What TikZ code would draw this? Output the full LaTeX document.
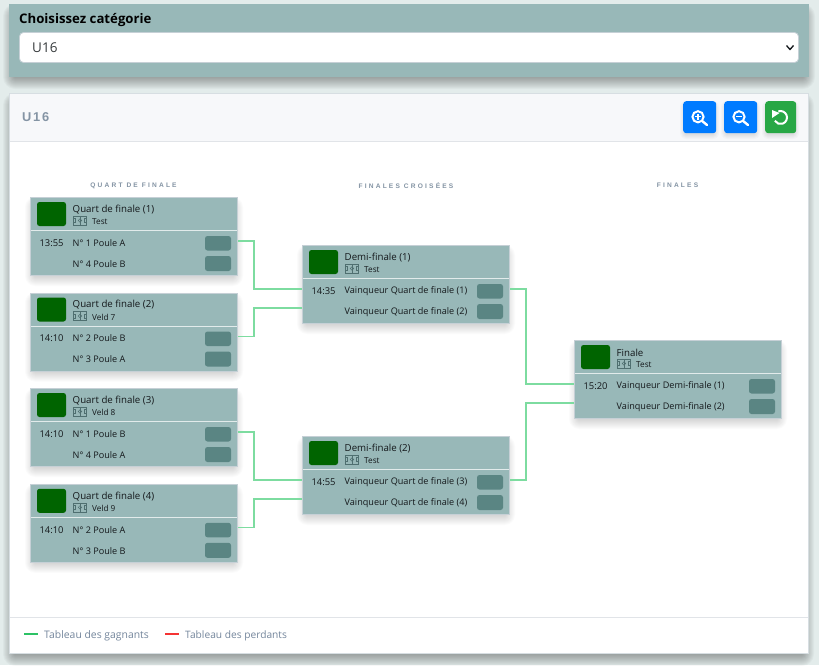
\documentclass[tikz,border=0pt]{standalone}
\usepackage{fontspec}
\setmainfont{Open Sans}
\newfontfamily\spacedfont[LetterSpace=33]{Liberation Sans}
\newfontfamily\headfont[LetterSpace=14]{Liberation Sans}
\usetikzlibrary{calc}
\definecolor{pagebg}{HTML}{E3ECEB}
\definecolor{panel}{HTML}{98B8B8}
\definecolor{scorebox}{HTML}{5A8583}
\definecolor{fieldgreen}{HTML}{006400}
\definecolor{boxedge}{HTML}{C6D0D6}
\definecolor{sepline}{HTML}{E2EBEB}
\definecolor{wire}{HTML}{7DDCA0}
\definecolor{inktext}{HTML}{14181B}
\definecolor{headbg}{HTML}{F7F8FA}
\definecolor{hairline}{HTML}{E1E4E8}
\definecolor{mutedtext}{HTML}{8494A4}
\definecolor{legendtext}{HTML}{74869C}
\definecolor{btnblue}{HTML}{007BFF}
\definecolor{btngreen}{HTML}{28A745}
\definecolor{legendgreen}{HTML}{2CC265}
\definecolor{legendred}{HTML}{F53333}
\definecolor{iconedge}{HTML}{4F6F70}
\tikzset{
  x=1pt,y=-1pt,
  matchbox/.style={draw=boxedge,line width=1pt,fill=panel,minimum width=207pt,minimum height=78pt,inner sep=0pt,anchor=north west},
  titletext/.style={font=\fontsize{9.7}{11}\selectfont,text=inktext,anchor=west,inner sep=0pt},
  matchtext/.style={font=\fontsize{9.1}{11}\selectfont,text=inktext,anchor=west,inner sep=0pt},
  timetext/.style={font=\fontsize{9.4}{11}\selectfont,text=inktext,anchor=center,inner sep=0pt},
  smalltext/.style={font=\fontsize{8.2}{10}\selectfont,text=inktext,anchor=west,inner sep=0pt},
  wireline/.style={draw=wire,line width=1.3pt,line join=miter},
  coltitle/.style={font=\fontsize{6.6}{8}\bfseries\spacedfont,text=mutedtext,inner sep=0pt},
  legendlabel/.style={font=\fontsize{10.4}{12}\selectfont,text=legendtext,anchor=west,inner sep=0pt},
  toolbtn/.style={rounded corners=3pt,inner sep=0pt,anchor=north west,minimum height=32pt},
  iconline/.style={draw=white,line width=2pt},
}
% soft shadow: x0 y0 x1 y1 spread opacity
\newcommand{\softshadow}[6]{%
  \foreach \s in {1,...,#5}{%
    \fill[black,opacity=#6,rounded corners=\s pt] (#1-\s+#5/2,#2-\s+#5/2+#5/2) rectangle (#3+\s-#5/2,#4+\s-#5/2+#5/2);
  }}
% one match card
\newcommand{\matchcard}[8]{% name x y title venue time team1 team2
  \softshadow{#2}{#3}{#2+208}{#3+79}{10}{0.016}
  \node[matchbox] (#1) at (#2,#3) {};
  \fill[fieldgreen,rounded corners=2.5pt] (#2+7,#3+5) rectangle (#2+36,#3+29);
  \draw[sepline,line width=1pt] (#2+1,#3+33.5) -- (#2+207,#3+33.5);
  \node[titletext] (#1title) at (#2+42.5,#3+12.5) {#4};
  \begin{scope}[shift={(#2+43.5,#3+19)},draw=iconedge,line width=.5pt]
    \draw (0,0) rectangle (13,9);
    \draw (6.5,0) -- (6.5,9);
    \draw (0,2.5) -- (2.2,2.5) -- (2.2,6.5) -- (0,6.5);
    \draw (13,2.5) -- (10.8,2.5) -- (10.8,6.5) -- (13,6.5);
    \draw (6.5,4.5) circle (1.7);
  \end{scope}
  \node[smalltext] (#1venue) at (#2+62,#3+24.5) {#5};
  \node[timetext] (#1time) at (#2+21.5,#3+46) {#6};
  \node[matchtext] (#1teama) at (#2+42.5,#3+46) {#7};
  \node[matchtext] (#1teamb) at (#2+42.5,#3+67) {#8};
  \fill[scorebox,rounded corners=2.5pt] (#2+175,#3+39) rectangle (#2+201,#3+53.5);
  \fill[scorebox,rounded corners=2.5pt] (#2+175,#3+59) rectangle (#2+201,#3+74);
  \coordinate (#1in1) at (#2,#3+44);
  \coordinate (#1in2) at (#2,#3+63);
  \coordinate (#1out) at (#2+208,#3+44);
}
\begin{document}
\begin{tikzpicture}
\useasboundingbox (0,0) rectangle (819,665);
\fill[pagebg] (0,0) rectangle (819,665);
% top panel
\softshadow{9}{4}{809}{77}{12}{0.028}
\fill[panel] (9,4) rectangle (809,77);
\node[font=\fontsize{13.2}{16}\bfseries\selectfont,text=black,anchor=west,inner sep=0pt] (catlabel) at (19,20.5) {Choisissez catégorie};
\fill[white,draw=boxedge,line width=.8pt,rounded corners=4pt] (19.5,32.5) rectangle (798.5,62.5);
\node[font=\fontsize{13.5}{16}\selectfont,text=inktext!85!white,anchor=west,inner sep=0pt] (catvalue) at (32,48) {U16};
\draw[inktext,line width=1.3pt] (786.5,45.5) -- (790,49.5) -- (793.5,45.5);
% main panel
\softshadow{9}{93}{808}{654}{12}{0.028}
\fill[white] (10,93) rectangle (808,653);
\draw[boxedge!70!white,line width=.8pt] (9.5,93.5) rectangle (808,653.5);
\fill[headbg] (10,94) rectangle (808,141);
\draw[hairline,line width=1pt] (10,141.5) -- (808,141.5);
\draw[hairline,line width=1pt] (10,617.5) -- (808,617.5);
\node[font=\fontsize{12.8}{15}\bfseries\headfont,text=mutedtext,anchor=west,inner sep=0pt] (headtitle) at (22,117.5) {U16};
% buttons
\softshadow{683}{101}{716}{133}{6}{0.02}
\softshadow{724}{101}{757}{133}{6}{0.02}
\softshadow{765}{101}{796}{133}{6}{0.02}
\node[toolbtn,fill=btnblue,minimum width=33pt] (zoomin) at (683,101) {};
\node[toolbtn,fill=btnblue,minimum width=33pt] (zoomout) at (724,101) {};
\node[toolbtn,fill=btngreen,minimum width=31pt] (reset) at (765,101) {};
\draw[iconline] (698,116.8) circle (5.6);
\draw[iconline,line width=2.4pt,line cap=round] (702.5,121.3) -- (707,125);
\draw[white,line width=1.3pt] (695,116.8) -- (701,116.8) (698,113.8) -- (698,119.8);
\draw[iconline] (739,116.8) circle (5.6);
\draw[iconline,line width=2.4pt,line cap=round] (743.5,121.3) -- (748,125);
\draw[white,line width=1.3pt] (736,116.8) -- (742,116.8);
\draw[iconline] (780.5,117.5) ++(-110:6.5) arc[start angle=-110,end angle=150,radius=6.5];
\fill[white] (772,110) -- (772,118) -- (779.5,113) -- cycle;
% column headers
\node[coltitle] (coltitlea) at (133.5,185.5) {QUART DE FINALE};
\node[coltitle] (coltitleb) at (406,185.5) {FINALES CROISÉES};
\node[coltitle] (coltitlec) at (677.5,185.5) {FINALES};
% matches
\matchcard{qa}{30}{197}{Quart de finale (1)}{Test}{13:55}{N° 1 Poule A}{N° 4 Poule B}
\matchcard{qb}{30}{292.5}{Quart de finale (2)}{Veld 7}{14:10}{N° 2 Poule B}{N° 3 Poule A}
\matchcard{qc}{30}{388}{Quart de finale (3)}{Veld 8}{14:10}{N° 1 Poule B}{N° 4 Poule A}
\matchcard{qd}{30}{483.8}{Quart de finale (4)}{Veld 9}{14:10}{N° 2 Poule A}{N° 3 Poule B}
\matchcard{da}{302}{245}{Demi-finale (1)}{Test}{14:35}{Vainqueur Quart de finale (1)}{Vainqueur Quart de finale (2)}
\matchcard{db}{302}{436}{Demi-finale (2)}{Test}{14:55}{Vainqueur Quart de finale (3)}{Vainqueur Quart de finale (4)}
\matchcard{fa}{574}{340}{Finale}{Test}{15:20}{Vainqueur Demi-finale (1)}{Vainqueur Demi-finale (2)}
% connectors
\draw[wireline] (qaout) -- ++(16,0) |- (dain1);
\draw[wireline] (qbout) -- ++(16,0) |- (dain2);
\draw[wireline] (qcout) -- ++(16,0) |- (dbin1);
\draw[wireline] (qdout) -- ++(16,0) |- (dbin2);
\draw[wireline] (daout) -- ++(16,0) |- (fain1);
\draw[wireline] (dbout) -- ++(16,0) |- (fain2);
% legend
\fill[legendgreen] (24,632.7) rectangle (38,634.7);
\fill[legendred] (165,632.7) rectangle (179,634.7);
\node[legendlabel] (legwin) at (44,636) {Tableau des gagnants};
\node[legendlabel,font=\fontsize{10.2}{12}\selectfont] (leglose) at (185,636) {Tableau des perdants};
\end{tikzpicture}
\end{document}
